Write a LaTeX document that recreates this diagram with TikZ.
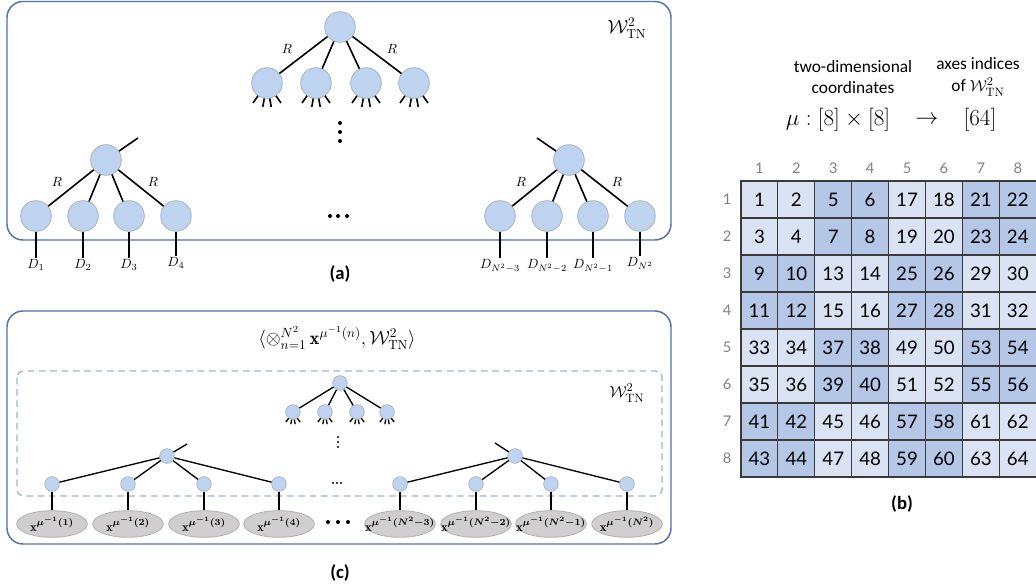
\documentclass[tikz,border=0pt]{standalone}
\usepackage{amsmath,amssymb,bm}
\usepackage{fontspec}
\newfontfamily\lato{Lato}
\newfontfamily\carlito{Carlito}
\usetikzlibrary{shapes.geometric}
\definecolor{nfill}{HTML}{BDD3F0}
\definecolor{ndraw}{HTML}{A8B2C0}
\definecolor{efill}{HTML}{D0CECE}
\definecolor{edraw}{HTML}{B0AEAE}
\definecolor{panel}{HTML}{4F72B0}
\definecolor{dashc}{HTML}{9DB3D4}
\definecolor{clight}{HTML}{DAE3F3}
\definecolor{cdark}{HTML}{B4C7E7}
\definecolor{gridc}{HTML}{3A3A3A}
\definecolor{headc}{HTML}{808080}
\newcommand{\xin}[1]{\makebox[0pt]{$\boldsymbol{\mathrm{x}^{\mu^{-1}(#1)}}$}}
\tikzset{
  big/.style={circle, fill=nfill, draw=ndraw, line width=0.6pt, minimum size=23pt, inner sep=0pt},
  small/.style={circle, fill=nfill, draw=ndraw, line width=0.5pt, minimum size=11pt, inner sep=0pt},
  edge/.style={line width=1.2pt, black},
  sedge/.style={line width=1pt, black},
  rlab/.style={font=\fontsize{10}{11}\selectfont, inner sep=0pt},
  dlab/.style={font=\fontsize{10}{11}\selectfont, inner sep=1pt, anchor=north},
  panelbox/.style={draw=panel, line width=1.1pt, rounded corners=12pt},
  inp/.style={ellipse, fill=efill, draw=edraw, line width=0.6pt, minimum width=53pt, minimum height=20pt, inner sep=0pt, font=\fontsize{9.5}{11}\selectfont},
  cell/.style={draw=gridc, line width=0.8pt, minimum width=27.675pt, minimum height=27.75pt, inner sep=0pt, font=\lato\fontsize{14}{16}\selectfont},
  head/.style={text=headc, font=\lato\fontsize{11}{12}\selectfont, inner sep=0pt},
  caplabel/.style={font=\carlito\bfseries\fontsize{14}{16}\selectfont, inner sep=0pt},
  txt/.style={font=\carlito\fontsize{13}{16}\selectfont, inner sep=0pt, align=center},
  bdot/.style={fill=black, circle, inner sep=0pt, minimum size=3pt},
  sdot/.style={fill=black, circle, inner sep=0pt, minimum size=1.8pt},
}
\begin{document}
\begin{tikzpicture}[x=0.75pt,y=-0.75pt]
\useasboundingbox (0,0) rectangle (1036,588);
% ---------- panel (a)
\draw[panelbox] (7,1.5) rectangle (671,240);
\node[font=\fontsize{14}{16}\selectfont, inner sep=0pt] (wa) at (627,28) {$\mathcal{W}^2_{\mathrm{TN}}$};
% top tree
\node[big] (t0) at (340,27) {};
\node[big] (t1) at (267,83) {};
\node[big] (t2) at (316,83) {};
\node[big] (t3) at (366,83) {};
\node[big] (t4) at (414,83) {};
\foreach \i in {1,2,3,4} {
  \draw[edge] (t0) -- (t\i);
  \foreach \a in {-125,-100,-80,-55} \draw[edge] (t\i.\a) -- ++(\a:6.5pt);
}
\node[rlab] (ra1) at (287,49) {$R$};
\node[rlab] (ra2) at (392,49) {$R$};
\node[bdot] (vd1) at (340,123) {};
\node[bdot] (vd2) at (340,132) {};
\node[bdot] (vd3) at (340,141) {};
% left tree
\node[big] (l0) at (106,160) {};
\coordinate (ls) at (138,138);
\draw[edge] (l0) -- (ls);
\node[big] (l1) at (36,216) {};
\node[big] (l2) at (83,216) {};
\node[big] (l3) at (129,216) {};
\node[big] (l4) at (176,216) {};
\node[dlab] (dl1) at (36,258) {$D_1$};
\node[dlab] (dl2) at (83,258) {$D_2$};
\node[dlab] (dl3) at (129,258) {$D_3$};
\node[dlab] (dl4) at (176,256) {$D_4$};
\foreach \i in {1,2,3,4} {\draw[edge] (l0) -- (l\i); \draw[edge] (l\i) -- (dl\i);}
\node[rlab] (rl1) at (57,182) {$R$};
\node[rlab] (rl2) at (153,182) {$R$};
% right tree
\node[big] (q0) at (569,160) {};
\coordinate (qs) at (537,138);
\draw[edge] (q0) -- (qs);
\node[big] (q1) at (500,216) {};
\node[big] (q2) at (547,216) {};
\node[big] (q3) at (593,216) {};
\node[big] (q4) at (640,216) {};
\node[dlab] (dq1) at (500,258) {$D_{N^2-3}$};
\node[dlab] (dq2) at (547,258) {$D_{N^2-2}$};
\node[dlab] (dq3) at (593,258) {$D_{N^2-1}$};
\node[dlab] (dq4) at (640,256) {$D_{N^2}$};
\foreach \i in {1,2,3,4} {\draw[edge] (q0) -- (q\i); \draw[edge] (q\i) -- (dq\i);}
\node[rlab] (rq1) at (521,182) {$R$};
\node[rlab] (rq2) at (617,182) {$R$};
\node[bdot] (hd1) at (330,216) {};
\node[bdot] (hd2) at (338,216) {};
\node[bdot] (hd3) at (347,216) {};
\node[caplabel] (capa) at (340,274) {(a)};
% ---------- panel (c)
\draw[panelbox] (7,311) rectangle (671,544);
\node[font=\fontsize{14}{16}\selectfont, inner sep=0pt] (fc) at (337,338)
  {$\langle \otimes_{n=1}^{N^2}\, \mathbf{x}^{\mu^{-1}(n)}, \mathcal{W}^2_{\mathrm{TN}} \rangle$};
\draw[dashc, line width=1pt, dash pattern=on 5pt off 3.5pt, rounded corners=5pt] (17,371) rectangle (662,496);
\node[font=\fontsize{13}{15}\selectfont, inner sep=0pt] (wc) at (627,393) {$\mathcal{W}^2_{\mathrm{TN}}$};
% top tree (c)
\node[small] (u0) at (340,383) {};
\node[small] (u1) at (293,412) {};
\node[small] (u2) at (325,412) {};
\node[small] (u3) at (357,412) {};
\node[small] (u4) at (387,412) {};
\foreach \i in {1,2,3,4} {
  \draw[sedge] (u0) -- (u\i);
  \foreach \a in {-125,-100,-80,-55} \draw[sedge] (u\i.\a) -- ++(\a:3.5pt);
}
\node[sdot] (cv1) at (338,437) {};
\node[sdot] (cv2) at (338,442) {};
\node[sdot] (cv3) at (338,447) {};
% left tree (c)
\node[small] (a0) at (167,456) {};
\coordinate (as) at (187,444);
\draw[sedge] (a0) -- (as);
\node[small] (a1) at (52,484) {};
\node[small] (a2) at (128,484) {};
\node[small] (a3) at (204,484) {};
\node[small] (a4) at (279,484) {};
\node[inp] (x1) at (52,524) {\xin{1}};
\node[inp] (x2) at (128,524) {\xin{2}};
\node[inp] (x3) at (204,524) {\xin{3}};
\node[inp] (x4) at (279,524) {\xin{4}};
\foreach \i in {1,2,3,4} {\draw[sedge] (a0) -- (a\i); \draw[sedge] (a\i) -- (x\i);}
% right tree (c)
\node[small] (b0) at (515,456) {};
\coordinate (bs) at (495,443);
\draw[sedge] (b0) -- (bs);
\node[small] (b1) at (400,484) {};
\node[small] (b2) at (476,484) {};
\node[small] (b3) at (551,484) {};
\node[small] (b4) at (627,484) {};
\node[inp] (y1) at (400,524) {\xin{N^2-3}};
\node[inp] (y2) at (476,524) {\xin{N^2-2}};
\node[inp] (y3) at (551,524) {\xin{N^2-1}};
\node[inp] (y4) at (627,524) {\xin{N^2}};
\foreach \i in {1,2,3,4} {\draw[sedge] (b0) -- (b\i); \draw[sedge] (b\i) -- (y\i);}
\node[sdot] (ch1) at (333,483) {};
\node[sdot] (ch2) at (337,483) {};
\node[sdot] (ch3) at (341,483) {};
\node[bdot] (cb1) at (328,522) {};
\node[bdot] (cb2) at (338,522) {};
\node[bdot] (cb3) at (348,522) {};
\node[caplabel] (capc) at (340,573) {(c)};
% ---------- panel (b)
\node[txt] (tw) at (853,77) {two-dimensional\\coordinates};
\node[txt] (ax) at (978,77) {axes indices\\of $\mathcal{W}^2_{\mathrm{TN}}$};
\node[font=\fontsize{18}{20}\selectfont, inner sep=0pt] (mu) at (838,120) {$\mu:[8]\times[8]$};
\node[font=\fontsize{18}{20}\selectfont, inner sep=0pt] (ar) at (927,120) {$\rightarrow$};
\node[font=\fontsize{18}{20}\selectfont, inner sep=0pt] (sf) at (980,120) {$[64]$};
\foreach \j in {1,...,8} \node[head] (colh\j) at ({741+36.9*(\j-0.5)},168) {\j};
\foreach \i in {1,...,8} \node[head] (rowh\i) at (727,{181+37*(\i-0.5)}) {\i};
\foreach \vals [count=\r] in {{1,2,5,6,17,18,21,22},{3,4,7,8,19,20,23,24},{9,10,13,14,25,26,29,30},{11,12,15,16,27,28,31,32},{33,34,37,38,49,50,53,54},{35,36,39,40,51,52,55,56},{41,42,45,46,57,58,61,62},{43,44,47,48,59,60,63,64}} {
  \foreach \v [count=\c] in \vals {
    \pgfmathtruncatemacro\blk{mod(int((\r-1)/2)+int((\c-1)/2),2)}
    \ifnum\blk=1 \def\cc{cdark}\else\def\cc{clight}\fi
    \node[cell, fill=\cc] (m-\r-\c) at ({741+36.9*(\c-0.5)},{181+37*(\r-0.5)}) {\v};
  }
}
\node[caplabel] (capb) at (902,504) {(b)};
\end{tikzpicture}
\end{document}
